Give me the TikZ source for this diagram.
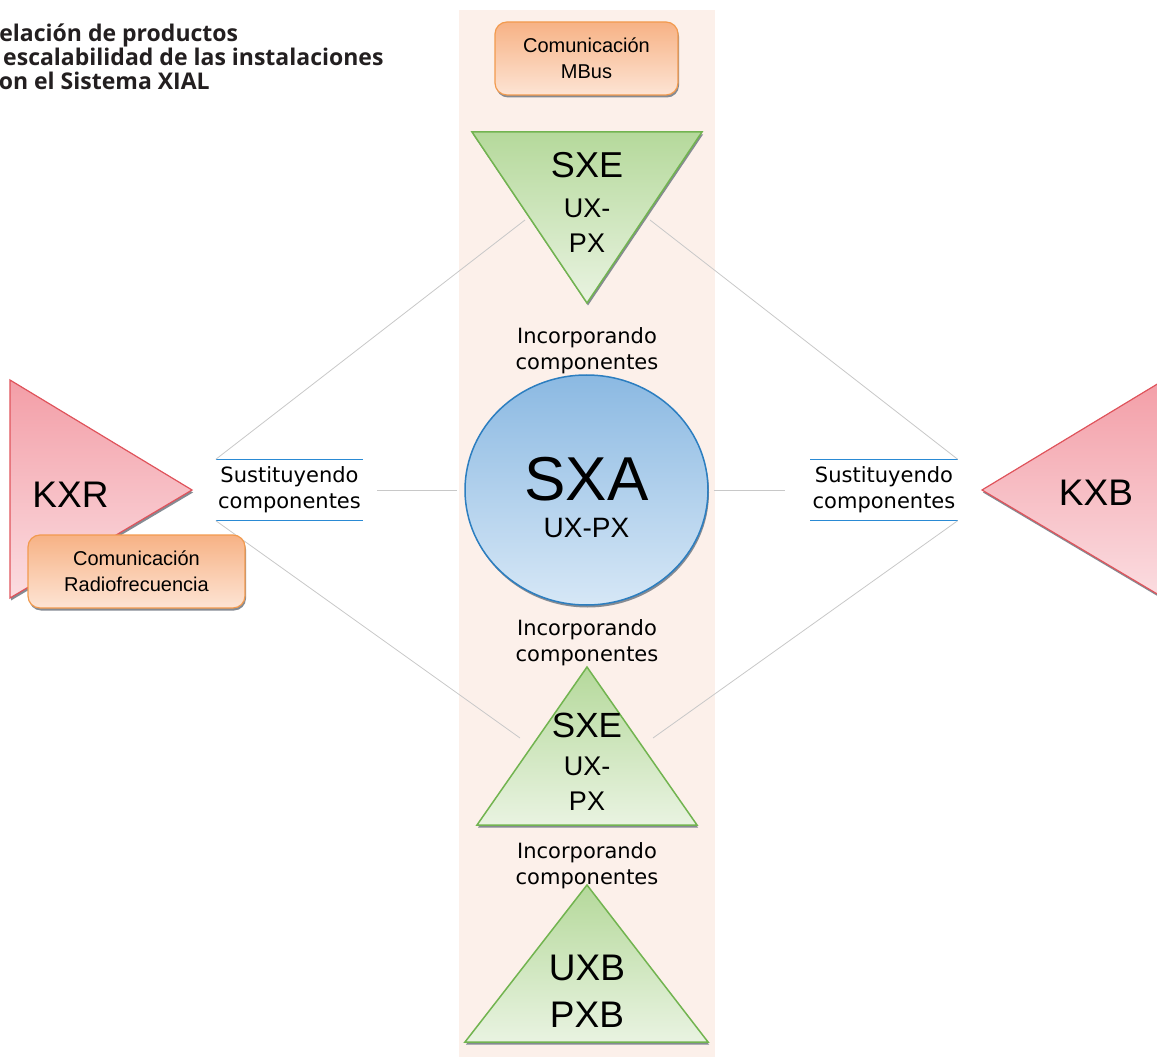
\documentclass[tikz,border=0pt]{standalone}
\usepackage{fontspec}
\setmainfont{Liberation Sans}
\newfontfamily\labelfont{DejaVu Sans}
\newfontfamily\titlefont{Open Sans}
\usetikzlibrary{shapes.geometric}
\usetikzlibrary{shadows}
\definecolor{bandcolor}{HTML}{FCF0EA}
\definecolor{greenedge}{HTML}{72B450}
\definecolor{greentop}{HTML}{B5D99B}
\definecolor{greenbottom}{HTML}{E9F3E1}
\definecolor{rededge}{HTML}{E0545C}
\definecolor{redtop}{HTML}{F39EA7}
\definecolor{redbottom}{HTML}{FBDDE1}
\definecolor{blueedge}{HTML}{2C7EC0}
\definecolor{bluetop}{HTML}{8BB9E2}
\definecolor{bluebottom}{HTML}{D6E7F6}
\definecolor{orangeedge}{HTML}{F29A4E}
\definecolor{orangetop}{HTML}{F7B285}
\definecolor{orangebottom}{HTML}{FDE4D4}
\definecolor{shadowgray}{HTML}{858B93}
\definecolor{lineblue}{HTML}{2A8AD4}
\definecolor{linkgray}{HTML}{C8C8C8}
\definecolor{titlecolor}{HTML}{231F20}
\tikzset{shapeshadow/.style = {drop shadow = {shadow xshift = 1pt, shadow yshift = -2.5pt,
                                              fill = shadowgray, opacity = 1}},
         greenshape/.style = {draw = greenedge, line width = 1.5pt, top color = greentop,
                              bottom color = greenbottom, shapeshadow},
         redshape/.style = {draw = rededge, line width = 1.2pt, top color = redtop,
                            bottom color = redbottom, shapeshadow},
         commbox/.style = {rounded corners = 12pt, draw = orangeedge, line width = 1.2pt,
                           top color = orangetop, bottom color = orangebottom,
                           minimum width = 183pt, minimum height = 73pt, align = center,
                           font = \fontsize{20}{26}\selectfont, shapeshadow},
         sublabel/.style = {align = center, minimum width = 147pt, minimum height = 61pt,
                            inner xsep = 0pt, font = \labelfont\fontsize{21}{26}\selectfont},
         inclabel/.style = {align = center, inner sep = 0pt,
                            font = \labelfont\fontsize{21}{26}\selectfont},
         shapetext/.style = {anchor = base, inner sep = 0pt},
         blueline/.style = {draw = lineblue, line width = 1.5pt},
         greyline/.style = {draw = linkgray, line width = 0.8pt}}

\begin{document}
\begin{tikzpicture}[x = 1pt, y = -1pt]
      \useasboundingbox (0, 0) rectangle (1157, 1059);
      \fill [bandcolor] (459, 10) rectangle (715, 1057);

      \node (title) [anchor = north west, align = left, inner sep = 0pt, text = titlecolor,
                     font = \titlefont\bfseries\fontsize{23}{24}\selectfont]
            at (-16, 24) {Relación de productos\\y escalabilidad de las instalaciones\\Con el Sistema XIAL};

      \node (subL) [sublabel] at (289.5, 490) {Sustituyendo\\componentes};
      \node (subR) [sublabel] at (884, 490) {Sustituyendo\\componentes};
      \draw [blueline] (subL.north west) -- (subL.north east);
      \draw [blueline] (subL.south west) -- (subL.south east);
      \draw [blueline] (subR.north west) -- (subR.north east);
      \draw [blueline] (subR.south west) -- (subR.south east);

      \coordinate (sxeTl) at (525, 220);
      \coordinate (sxeTr) at (650, 220);
      \coordinate (sxeBl) at (520, 738);
      \coordinate (sxeBr) at (653, 738);
      \draw [greyline] (subL.north west) -- (sxeTl);
      \draw [greyline] (subR.north east) -- (sxeTr);
      \draw [greyline] (subL.south west) -- (sxeBl);
      \draw [greyline] (subR.south east) -- (sxeBr);

      \node (sxa) [ellipse, draw = blueedge, line width = 1.5pt, top color = bluetop,
                   bottom color = bluebottom, minimum width = 243pt, minimum height = 230pt,
                   inner sep = 0pt, shapeshadow] at (586.5, 490) {};
      \draw [greyline, shorten <= 14pt, shorten >= 7pt] (subL.east) -- (sxa.west);
      \draw [greyline, shorten <= 5pt, shorten >= 25pt] (sxa.east) -- (subR.west);
      \node (sxaName) [shapetext, font = \fontsize{62}{62}\selectfont] at (586.5, 500) {SXA};
      \node (sxaSub) [shapetext, font = \fontsize{28}{28}\selectfont] at (586.5, 537) {UX-PX};

      \filldraw [greenshape] (472, 132) -- (702, 132) -- (587, 303) -- cycle;
      \node (sxeTname) [shapetext, font = \fontsize{36}{36}\selectfont] at (587, 178) {SXE};
      \node (sxeTux) [shapetext, font = \fontsize{27}{27}\selectfont] at (587, 218) {UX-};
      \node (sxeTpx) [shapetext, font = \fontsize{27}{27}\selectfont] at (587, 253) {PX};

      \filldraw [greenshape] (587, 667) -- (697, 825) -- (477, 825) -- cycle;
      \node (sxeBname) [shapetext, font = \fontsize{35}{35}\selectfont] at (587, 737) {SXE};
      \node (sxeBux) [shapetext, font = \fontsize{27}{27}\selectfont] at (587, 775) {UX-};
      \node (sxeBpx) [shapetext, font = \fontsize{27}{27}\selectfont] at (587, 810) {PX};

      \filldraw [greenshape] (587, 885) -- (708, 1042) -- (465, 1042) -- cycle;
      \node (uxb) [shapetext, font = \fontsize{37}{37}\selectfont] at (587, 980) {UXB};
      \node (pxb) [shapetext, font = \fontsize{37}{37}\selectfont] at (587, 1027) {PXB};

      \node (incA) [inclabel] at (587, 350.5) {Incorporando\\componentes};
      \node (incB) [inclabel] at (587, 642.5) {Incorporando\\componentes};
      \node (incC) [inclabel] at (587, 865.5) {Incorporando\\componentes};

      \filldraw [redshape] (10, 380) -- (192, 490) -- (10, 598) -- cycle;
      \node (kxr) [shapetext, font = \fontsize{37}{37}\selectfont] at (70.5, 507) {KXR};
      \filldraw [redshape] (1164, 380) -- (982, 490) -- (1164, 598) -- cycle;
      \node (kxb) [shapetext, font = \fontsize{37}{37}\selectfont] at (1096, 505) {KXB};

      \node (mbus) [commbox] at (586.5, 58.5) {Comunicación\\MBus};
      \node (radio) [commbox, minimum width = 217pt] at (136.5, 571.5) {Comunicación\\Radiofrecuencia};
    \end{tikzpicture}
\end{document}
